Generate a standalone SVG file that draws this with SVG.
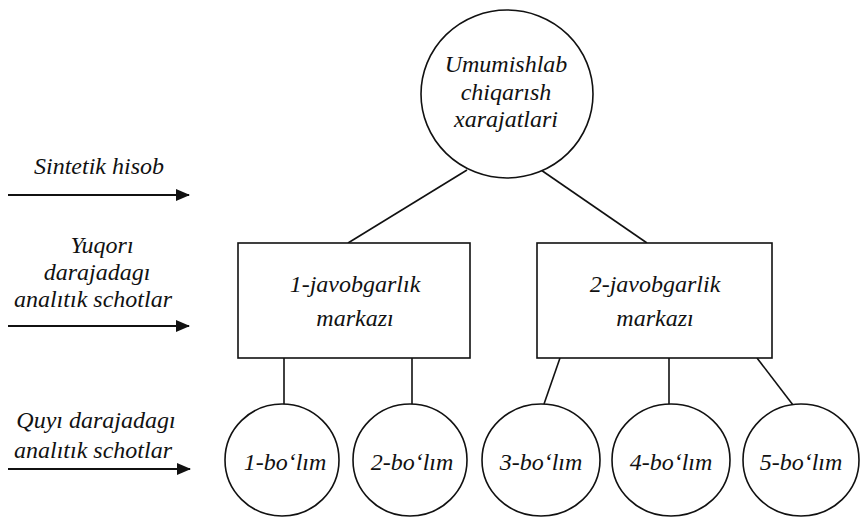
<svg xmlns="http://www.w3.org/2000/svg" width="861" height="520" viewBox="0 0 861 520">
<defs>
  <marker id="ah" markerWidth="14" markerHeight="12" refX="13" refY="6" orient="auto" markerUnits="userSpaceOnUse">
    <path d="M0,0 L14,6 L0,12 Z" fill="#111111"/>
  </marker>
</defs>
<rect width="861" height="520" fill="#ffffff"/>

<g id="connectors" stroke="#111111" stroke-width="1.6" fill="none">
  <line x1="467" y1="170" x2="348" y2="243"/>
  <line x1="541" y1="170" x2="647" y2="243"/>
  <line x1="284" y1="358" x2="284" y2="404"/>
  <line x1="412" y1="358" x2="412" y2="404"/>
  <line x1="560" y1="358" x2="544" y2="404"/>
  <line x1="669" y1="358" x2="669" y2="404"/>
  <line x1="757" y1="358" x2="793" y2="405"/>
  <line x1="8" y1="195" x2="189" y2="195" stroke-width="1.8" marker-end="url(#ah)"/>
  <line x1="8" y1="326" x2="189" y2="326" stroke-width="1.8" marker-end="url(#ah)"/>
  <line x1="8" y1="469" x2="190" y2="469" stroke-width="1.8" marker-end="url(#ah)"/>
</g>

<g fill="#111111" text-anchor="middle">
<g id="labels">
  <text x="99" y="174" font-family="Liberation Serif" font-style="italic" font-size="24">Sintetik hisob</text>
  <text x="102" y="253" font-family="Liberation Serif" font-style="italic" font-size="24">Yuqorı</text>
  <text x="97" y="280" font-family="Liberation Serif" font-style="italic" font-size="24">darajadagı</text>
  <text x="93" y="307" font-family="Liberation Serif" font-style="italic" font-size="24">analıtık schotlar</text>
  <text x="96" y="428" font-family="Liberation Serif" font-style="italic" font-size="24">Quyı darajadagı</text>
  <text x="93" y="458" font-family="Liberation Serif" font-style="italic" font-size="24">analıtık schotlar</text>
</g>

<g id="top">
  <ellipse cx="507" cy="94" rx="86" ry="84" fill="#ffffff" stroke="#111111" stroke-width="1.6"/>
  <text x="506" y="72" font-family="Liberation Serif" font-style="italic" font-size="24">Umumishlab</text>
  <text x="506" y="100" font-family="Liberation Serif" font-style="italic" font-size="24">chiqarısh</text>
  <text x="506" y="127" font-family="Liberation Serif" font-style="italic" font-size="24">xarajatlari</text>
</g>

<g id="center1">
  <rect x="238" y="243" width="232" height="115" fill="#ffffff" stroke="#111111" stroke-width="1.6"/>
  <text x="355" y="292" font-family="Liberation Serif" font-style="italic" font-size="24">1-javobgarlık</text>
  <text x="355" y="326" font-family="Liberation Serif" font-style="italic" font-size="24">markazı</text>
</g>

<g id="center2">
  <rect x="537" y="243" width="235" height="115" fill="#ffffff" stroke="#111111" stroke-width="1.6"/>
  <text x="655" y="292" font-family="Liberation Serif" font-style="italic" font-size="24">2-javobgarlik</text>
  <text x="655" y="326" font-family="Liberation Serif" font-style="italic" font-size="24">markazı</text>
</g>

<g id="dept1">
  <ellipse cx="282" cy="460" rx="57" ry="56" fill="#ffffff" stroke="#111111" stroke-width="1.6"/>
  <text x="285" y="470" font-family="Liberation Serif" font-style="italic" font-size="24">1-bo‘lım</text>
</g>
<g id="dept2">
  <ellipse cx="410" cy="460" rx="57" ry="56" fill="#ffffff" stroke="#111111" stroke-width="1.6"/>
  <text x="412" y="470" font-family="Liberation Serif" font-style="italic" font-size="24">2-bo‘lım</text>
</g>
<g id="dept3">
  <ellipse cx="541" cy="460" rx="59" ry="56" fill="#ffffff" stroke="#111111" stroke-width="1.6"/>
  <text x="541" y="470" font-family="Liberation Serif" font-style="italic" font-size="24">3-bo‘lım</text>
</g>
<g id="dept4">
  <ellipse cx="671" cy="460" rx="59" ry="56" fill="#ffffff" stroke="#111111" stroke-width="1.6"/>
  <text x="671" y="470" font-family="Liberation Serif" font-style="italic" font-size="24">4-bo‘lım</text>
</g>
<g id="dept5">
  <ellipse cx="801" cy="460" rx="58" ry="56" fill="#ffffff" stroke="#111111" stroke-width="1.6"/>
  <text x="801" y="470" font-family="Liberation Serif" font-style="italic" font-size="24">5-bo‘lım</text>
</g>
</g>
</svg>
